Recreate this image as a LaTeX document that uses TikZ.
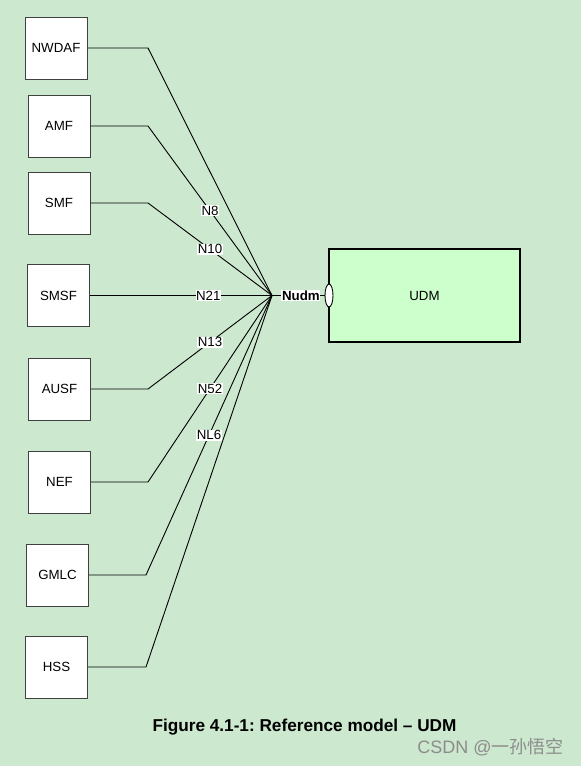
\documentclass[tikz,border=0pt]{standalone}
\usepackage{fontspec}
\setmainfont{Liberation Sans}
\newfontfamily\cjk{Noto Sans CJK SC}
\usepackage{tikz}
\usetikzlibrary{shapes.geometric}
\frenchspacing
\definecolor{eyegreen}{RGB}{204,232,207}
\definecolor{udmgreen}{RGB}{204,255,204}
\tikzset{nf/.style={rectangle,draw=black!75,fill=white,line width=1pt,minimum width=62pt,minimum height=62pt,inner sep=0pt,font=\fontsize{13.3}{15}\selectfont}}
\tikzset{ifc/.style={fill=white,inner sep=0.6pt,font=\fontsize{13.3}{15}\selectfont}}
\tikzset{link/.style={black,line width=0.9pt}}
\tikzset{port/.style={ellipse,draw,fill=white,line width=0.9pt,minimum width=8pt,minimum height=23pt,inner sep=0pt}}

\begin{document}
\begin{tikzpicture}[x=1pt,y=-1pt]
    \fill[eyegreen] (0,0) rectangle (581,766);
    \useasboundingbox (0,0) rectangle (581,766);
    \node[nf] (nwdaf) at (56,48) {NWDAF};
    \node[nf] (amf) at (59,126) {AMF};
    \node[nf] (smf) at (59,203) {SMF};
    \node[nf] (smsf) at (58.5,295.5) {SMSF};
    \node[nf] (ausf) at (59.5,389) {AUSF};
    \node[nf] (nef) at (59.5,482) {NEF};
    \node[nf] (gmlc) at (57.5,575) {GMLC};
    \node[nf] (hss) at (56.5,667) {HSS};
    \coordinate (hub) at (272,295.5);
    \coordinate (bend) at (148,0);
    \coordinate (bendlow) at (146,0);
    \node[nf,minimum width=191pt,minimum height=93pt,line width=2pt,draw=black,fill=udmgreen] (udm) at (424.5,295.5) {UDM};
    \node[port] (nudm) at (329,295.5) {};
    \draw[link] (nwdaf.east) -- (nwdaf.east -| bend) -- (hub);
    \draw[link] (amf.east) -- (amf.east -| bend) -- node[ifc] {N8} (hub);
    \draw[link] (smf.east) -- (smf.east -| bend) -- node[ifc] {N10} (hub);
    \draw[link] (smsf.east) -- node[ifc,pos=0.65] {N21} (hub);
    \draw[link] (ausf.east) -- (ausf.east -| bend) -- node[ifc] {N13} (hub);
    \draw[link] (nef.east) -- (nef.east -| bend) -- node[ifc] {N52} (hub);
    \draw[link] (gmlc.east) -- (gmlc.east -| bendlow) -- node[ifc] {NL6} (hub);
    \draw[link] (hss.east) -- (hss.east -| bendlow) -- (hub);
    \draw[link] (hub) -- node[ifc,pos=0.55,font=\fontsize{13.3}{15}\selectfont\bfseries] {Nudm} (nudm.west);
    \node[font=\fontsize{17.2}{19}\selectfont\bfseries] (caption) at (304.5,727) {Figure 4.1-1: Reference model -- UDM};
    \node[text=black!45,font=\fontsize{18}{20}\selectfont] (mark) at (490.5,747) {CSDN @{\cjk 一孙悟空}};
\end{tikzpicture}
\end{document}
